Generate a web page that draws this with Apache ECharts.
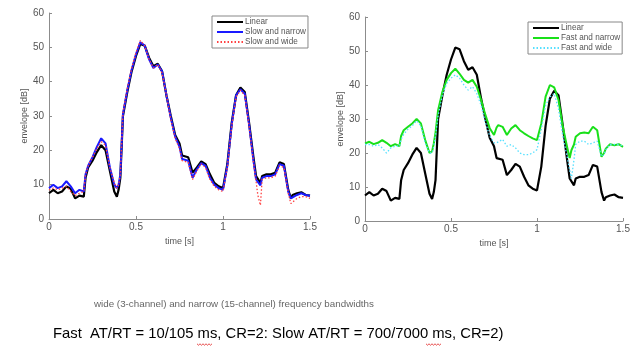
<!DOCTYPE html>
<html>
<head>
<meta charset="utf-8">
<script src="https://cdn.jsdelivr.net/npm/echarts@6/dist/echarts.min.js"></script>
<style>
html,body{margin:0;padding:0;background:#fff;}
#chart{width:635px;height:360px;}
</style>
</head>
<body>
<div id="chart"></div>
<script>
// time samples [s]
var times = [0, 0.025, 0.05, 0.075, 0.1, 0.125, 0.15, 0.175, 0.2,
  0.21, 0.225, 0.25, 0.275, 0.3, 0.325, 0.35, 0.375, 0.39, 0.4,
  0.41, 0.425, 0.45, 0.475, 0.5, 0.525, 0.55, 0.575, 0.6, 0.625,
  0.65, 0.675, 0.7, 0.725, 0.75, 0.765, 0.775, 0.8, 0.825, 0.85,
  0.875, 0.9, 0.925, 0.95, 0.975, 1.0, 1.025, 1.05, 1.075, 1.1,
  1.125, 1.15, 1.175, 1.19, 1.2, 1.215, 1.225, 1.25, 1.275, 1.3,
  1.325, 1.35, 1.375, 1.39, 1.4, 1.425, 1.45, 1.475, 1.5];

var linear = [7.5, 8.5, 7.5, 8, 9.5, 8.8, 6, 6.8, 6.5,
  12, 15, 17, 19.5, 21.5, 20, 14, 8, 6.5, 8.5,
  12, 30, 37, 43, 47.5, 51, 50.5, 47, 44.5, 45.2,
  43, 36, 30, 24.5, 22, 18.5, 19, 18, 13.5, 15,
  16.8, 16, 13, 10.5, 9.5, 9, 16, 28, 36, 38.3,
  37, 28, 18, 12.5, 12.5, 10.5, 12.5, 13, 13, 13.5,
  16.5, 16, 8.5, 6, 7, 7.5, 7.8, 7, 6.8];

var slowNarrow = [9, 10, 9, 9.5, 11, 9.5, 7.5, 8.5, 8,
  13, 15.5, 18, 21, 23.5, 22, 15, 10, 9, 10,
  13, 30.5, 37.5, 43.5, 48, 51.5, 50.5, 46.5, 44, 45,
  43, 36, 29.5, 24, 21, 17.5, 18, 17, 12, 14.5,
  16.3, 15.5, 12, 10, 9, 8.5, 15.5, 27.5, 36, 37.8,
  36.5, 27.5, 17, 11.5, 11, 9.8, 12, 12.5, 12.5, 13,
  16, 15.5, 8, 6, 6.5, 7, 7.5, 7, 6.8];

var slowWide = [8.5, 9, 8.5, 9, 9.5, 8, 6.8, 7.5, 8,
  13, 15.5, 18, 20.5, 22.5, 21.5, 15, 10.5, 9, 10,
  13, 31, 38, 44, 48.5, 52, 50.5, 46.5, 44, 45,
  42.5, 36, 29, 23.5, 20.5, 17, 17.5, 16.5, 11.5, 14,
  16, 15, 11.5, 9.5, 8.5, 8, 15, 27, 35.5, 37.5,
  36, 27, 16.5, 11, 7, 4, 11.5, 12, 12, 12.5,
  15.5, 15, 7.5, 4.5, 5, 6, 6.5, 6.5, 6];

var fastNarrow = [22.8, 23.3, 22.6, 23, 23.8, 23, 22, 22.6, 22,
  25, 26.7, 27.7, 28.7, 30, 28.7, 23.8, 20, 20.5, 22.8,
  26, 32.6, 38, 41.5, 43.5, 44.8, 43.3, 41.5, 40.7, 41.5,
  39.5, 35.6, 31.2, 27.3, 25.3, 27.5, 28.2, 27.7, 25.3, 27.2,
  28.2, 26.7, 25.8, 25, 24.3, 23.8, 28.7, 36.6, 40, 39.3,
  35.6, 27.7, 21.8, 18.5, 20.8, 22.5, 24.8, 25.8, 26, 25.8,
  27.7, 26.7, 18.9, 20, 21.3, 22.6, 22.3, 22.6, 21.8];

var fastWide = [22.5, 22.5, 22, 22.5, 21.5, 20, 21.5, 22, 22,
  24, 25.5, 27, 28, 29.5, 28, 23, 20, 20, 22,
  25, 31, 37, 40.5, 42, 43, 42, 40, 38.5, 39.5,
  37.5, 34, 29, 25, 23, 23, 23.5, 24, 22, 22.5,
  21.5, 20, 19.5, 19.5, 20, 21, 27, 34, 36.5, 37.5,
  33, 25, 19, 15, 12.5, 18, 22.5, 23.5, 23.5, 22.5,
  23, 23.5, 19, 19.5, 21, 22.5, 22.5, 22.5, 22];

function pairs(arr){
  return times.map(function(t,i){ return [t, arr[i]]; });
}

var axisGray = '#8c8c8c';
var labelGray = '#555';

function xAx(idx){
  return {
    type:'value', gridIndex:idx, min:0, max:1.5, interval:0.5,
    name:'time [s]', nameLocation:'middle', nameGap:9,
    nameTextStyle:{fontSize:9, color:labelGray, fontFamily:'Liberation Sans'},
    axisLine:{lineStyle:{color:axisGray}},
    axisTick:{inside:true, length:3, lineStyle:{color:axisGray}},
    axisLabel:{fontSize:10, color:labelGray, margin:3, fontFamily:'Liberation Sans'},
    splitLine:{show:false}
  };
}
function yAx(idx, gap){
  return {
    type:'value', gridIndex:idx, min:0, max:60, interval:10,
    name:'envelope [dB]', nameLocation:'middle', nameGap:gap, nameRotate:90,
    nameTextStyle:{fontSize:9, color:labelGray, fontFamily:'Liberation Sans'},
    axisLine:{show:true, lineStyle:{color:axisGray}},
    axisTick:{show:true, inside:true, length:3, lineStyle:{color:axisGray}},
    axisLabel:{fontSize:10, color:labelGray, margin:5, fontFamily:'Liberation Sans'},
    splitLine:{show:false}
  };
}

function legendBox(names, left, top){
  return {
    data:names, left:left, top:top, orient:'vertical',
    itemGap:0, itemWidth:26, itemHeight:8,
    itemStyle:{opacity:0},
    padding:[1,2,1,4],
    borderColor:'#888', borderWidth:1, backgroundColor:'#fff',
    textStyle:{fontSize:8.2, color:labelGray, lineHeight:10, padding:[0,0,0,-3], fontFamily:'Liberation Sans'}
  };
}

function lineSeries(name, arr, color, width, dotted, idx){
  return {
    name:name, type:'line', xAxisIndex:idx, yAxisIndex:idx,
    data:pairs(arr), symbol:'none', showSymbol:false, animation:false,
    lineStyle:{color:color, width:width, type: dotted ? [1.5,2] : 'solid'},
    itemStyle:{color:color}
  };
}

// red squiggle under "ms" (spell-check marks)
function squiggle(x0, x1, y){
  var pts = [], k = 0;
  for (var x = x0; x <= x1; x += 1.5) { pts.push([x, y + (k % 2 ? 1.2 : -0.2)]); k++; }
  return {type:'polyline', shape:{points:pts}, style:{stroke:'#e02020', lineWidth:0.8, fill:null}};
}

var chart = echarts.init(document.getElementById('chart'));
var option = {
  backgroundColor:'#fff',
  animation:false,
  grid:[
    {left:49, top:13, width:261, height:206},
    {left:365, top:17, width:258, height:204}
  ],
  xAxis:[xAx(0), xAx(1)],
  yAxis:[yAx(0, 14), yAx(1, 13)],
  legend:[
    legendBox(['Linear','Slow and narrow','Slow and wide'], 212, 16),
    legendBox(['Linear ','Fast and narrow','Fast and wide'], 528, 22)
  ],
  series:[
    lineSeries('Linear', linear, '#000', 2.2, false, 0),
    lineSeries('Slow and narrow', slowNarrow, '#1a1aff', 2, false, 0),
    lineSeries('Slow and wide', slowWide, '#ff4040', 1.3, true, 0),
    lineSeries('Linear ', linear, '#000', 2.2, false, 1),
    lineSeries('Fast and narrow', fastNarrow, '#19e019', 2, false, 1),
    lineSeries('Fast and wide', fastWide, '#55e0ff', 1.3, true, 1)
  ],
  graphic:[
    {type:'text', left:94, top:299, style:{text:'wide (3-channel) and narrow (15-channel) frequency bandwidths', fontSize:9.8, fill:'#666', fontFamily:'Liberation Sans'}},
    {type:'text', left:53, top:326, style:{text:'Fast  AT/RT = 10/105 ms, CR=2: Slow AT/RT = 700/7000 ms, CR=2)', fontSize:14.8, fill:'#000', fontFamily:'Liberation Sans'}},
    squiggle(197, 213, 344),
    squiggle(426, 442, 344)
  ]
};
chart.setOption(option);
</script>
</body>
</html>
